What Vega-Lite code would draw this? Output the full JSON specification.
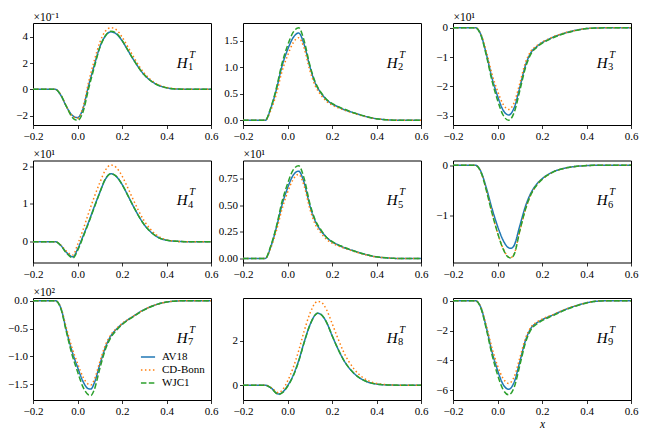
{
  "$schema": "https://vega.github.io/schema/vega-lite/v6.json",
  "padding": {"left": 7, "top": 10, "right": 5, "bottom": 5},
  "background": "white",
  "columns": 3,
  "spacing": {"row": 35.5, "column": 32},
  "bounds": "flush",
  "resolve": {"scale": {"x": "independent", "y": "independent"}, "legend": {"color": "independent", "strokeDash": "independent"}},
  "config": {
    "font": "Liberation Serif",
    "view": {"stroke": "#000", "strokeWidth": 1},
    "range": {"category": ["#1f77b4", "#ff7f0e", "#2ca02c"]},
    "axis": {"domain": false, "grid": false, "tickColor": "#000", "tickSize": 3.5, "tickWidth": 0.8, "labelFont": "Liberation Serif", "labelFontSize": 11, "labelColor": "#000", "labelPadding": 2, "labelFlush": false, "labelOverlap": false, "titleFont": "Liberation Serif", "titleFontWeight": "normal", "titleFontSize": 11.5, "titleColor": "#000"},
    "axisY": {"titleAngle": 0, "titleAlign": "left", "titleBaseline": "alphabetic", "titleX": 0, "titleY": -3},
    "axisX": {"titleFontStyle": "italic", "titlePadding": 2},
    "legend": {"labelFont": "Liberation Serif", "labelFontSize": 11, "labelColor": "#000", "symbolSize": 200, "symbolStrokeWidth": 1.5, "labelOffset": 6, "rowPadding": 0, "padding": 0, "symbolType": "stroke"},
    "style": {
      "hl": {"font": "Liberation Serif", "fontStyle": "italic", "fontSize": 15, "align": "center", "baseline": "middle"},
      "sup": {"font": "Liberation Serif", "fontStyle": "italic", "fontSize": 10.5, "align": "center", "baseline": "middle", "dx": 10, "dy": -8},
      "sub": {"font": "Liberation Serif", "fontSize": 10.5, "align": "center", "baseline": "middle", "dx": 8.5, "dy": 4.5}
    }
  },
  "datasets": {
    "p1": [
      {"s":"AV18","x":-0.2,"y":0},{"s":"AV18","x":-0.1,"y":0},{"s":"AV18","x":-0.075,"y":-0.45},{"s":"AV18","x":-0.05,"y":-1.3},{"s":"AV18","x":-0.025,"y":-1.95},{"s":"AV18","x":0,"y":-2.15},{"s":"AV18","x":0.025,"y":-1.45},{"s":"AV18","x":0.05,"y":0.3},{"s":"AV18","x":0.075,"y":1.8},{"s":"AV18","x":0.1,"y":3.2},{"s":"AV18","x":0.125,"y":4.05},{"s":"AV18","x":0.15,"y":4.37},{"s":"AV18","x":0.175,"y":4.2},{"s":"AV18","x":0.2,"y":3.7},{"s":"AV18","x":0.225,"y":3.0},{"s":"AV18","x":0.25,"y":2.3},{"s":"AV18","x":0.3,"y":1.1},{"s":"AV18","x":0.35,"y":0.42},{"s":"AV18","x":0.4,"y":0.12},{"s":"AV18","x":0.45,"y":0.02},{"s":"AV18","x":0.5,"y":0},{"s":"AV18","x":0.6,"y":0},
      {"s":"CD-Bonn","x":-0.2,"y":0},{"s":"CD-Bonn","x":-0.1,"y":0},{"s":"CD-Bonn","x":-0.075,"y":-0.42},{"s":"CD-Bonn","x":-0.05,"y":-1.28},{"s":"CD-Bonn","x":-0.025,"y":-1.98},{"s":"CD-Bonn","x":0,"y":-2.2},{"s":"CD-Bonn","x":0.025,"y":-1.35},{"s":"CD-Bonn","x":0.05,"y":0.55},{"s":"CD-Bonn","x":0.075,"y":2.15},{"s":"CD-Bonn","x":0.1,"y":3.55},{"s":"CD-Bonn","x":0.125,"y":4.42},{"s":"CD-Bonn","x":0.15,"y":4.68},{"s":"CD-Bonn","x":0.175,"y":4.52},{"s":"CD-Bonn","x":0.2,"y":3.98},{"s":"CD-Bonn","x":0.225,"y":3.27},{"s":"CD-Bonn","x":0.25,"y":2.52},{"s":"CD-Bonn","x":0.3,"y":1.22},{"s":"CD-Bonn","x":0.35,"y":0.48},{"s":"CD-Bonn","x":0.4,"y":0.14},{"s":"CD-Bonn","x":0.45,"y":0.03},{"s":"CD-Bonn","x":0.5,"y":0},{"s":"CD-Bonn","x":0.6,"y":0},
      {"s":"WJC1","x":-0.2,"y":0},{"s":"WJC1","x":-0.1,"y":0},{"s":"WJC1","x":-0.075,"y":-0.42},{"s":"WJC1","x":-0.05,"y":-1.3},{"s":"WJC1","x":-0.025,"y":-2.1},{"s":"WJC1","x":0,"y":-2.36},{"s":"WJC1","x":0.025,"y":-1.7},{"s":"WJC1","x":0.05,"y":0.05},{"s":"WJC1","x":0.075,"y":1.65},{"s":"WJC1","x":0.1,"y":3.15},{"s":"WJC1","x":0.125,"y":4.05},{"s":"WJC1","x":0.15,"y":4.42},{"s":"WJC1","x":0.175,"y":4.26},{"s":"WJC1","x":0.2,"y":3.74},{"s":"WJC1","x":0.225,"y":3.02},{"s":"WJC1","x":0.25,"y":2.3},{"s":"WJC1","x":0.3,"y":1.1},{"s":"WJC1","x":0.35,"y":0.42},{"s":"WJC1","x":0.4,"y":0.12},{"s":"WJC1","x":0.45,"y":0.02},{"s":"WJC1","x":0.5,"y":0},{"s":"WJC1","x":0.6,"y":0}
    ],
    "p2": [
      {"s":"AV18","x":-0.2,"y":0},{"s":"AV18","x":-0.1,"y":0},{"s":"AV18","x":-0.075,"y":0.23},{"s":"AV18","x":-0.05,"y":0.58},{"s":"AV18","x":-0.025,"y":1.02},{"s":"AV18","x":0,"y":1.33},{"s":"AV18","x":0.025,"y":1.56},{"s":"AV18","x":0.05,"y":1.65},{"s":"AV18","x":0.075,"y":1.43},{"s":"AV18","x":0.1,"y":1.02},{"s":"AV18","x":0.125,"y":0.7},{"s":"AV18","x":0.15,"y":0.52},{"s":"AV18","x":0.175,"y":0.39},{"s":"AV18","x":0.2,"y":0.31},{"s":"AV18","x":0.225,"y":0.26},{"s":"AV18","x":0.25,"y":0.21},{"s":"AV18","x":0.3,"y":0.14},{"s":"AV18","x":0.35,"y":0.075},{"s":"AV18","x":0.4,"y":0.03},{"s":"AV18","x":0.45,"y":0.01},{"s":"AV18","x":0.5,"y":0},{"s":"AV18","x":0.6,"y":0},
      {"s":"CD-Bonn","x":-0.2,"y":0},{"s":"CD-Bonn","x":-0.1,"y":0},{"s":"CD-Bonn","x":-0.075,"y":0.19},{"s":"CD-Bonn","x":-0.05,"y":0.5},{"s":"CD-Bonn","x":-0.025,"y":0.92},{"s":"CD-Bonn","x":0,"y":1.22},{"s":"CD-Bonn","x":0.025,"y":1.46},{"s":"CD-Bonn","x":0.05,"y":1.56},{"s":"CD-Bonn","x":0.075,"y":1.36},{"s":"CD-Bonn","x":0.1,"y":0.95},{"s":"CD-Bonn","x":0.125,"y":0.65},{"s":"CD-Bonn","x":0.15,"y":0.48},{"s":"CD-Bonn","x":0.175,"y":0.36},{"s":"CD-Bonn","x":0.2,"y":0.29},{"s":"CD-Bonn","x":0.225,"y":0.24},{"s":"CD-Bonn","x":0.25,"y":0.2},{"s":"CD-Bonn","x":0.3,"y":0.13},{"s":"CD-Bonn","x":0.35,"y":0.07},{"s":"CD-Bonn","x":0.4,"y":0.028},{"s":"CD-Bonn","x":0.45,"y":0.01},{"s":"CD-Bonn","x":0.5,"y":0},{"s":"CD-Bonn","x":0.6,"y":0},
      {"s":"WJC1","x":-0.2,"y":0},{"s":"WJC1","x":-0.1,"y":0},{"s":"WJC1","x":-0.075,"y":0.24},{"s":"WJC1","x":-0.05,"y":0.61},{"s":"WJC1","x":-0.025,"y":1.07},{"s":"WJC1","x":0,"y":1.41},{"s":"WJC1","x":0.025,"y":1.66},{"s":"WJC1","x":0.05,"y":1.75},{"s":"WJC1","x":0.075,"y":1.5},{"s":"WJC1","x":0.1,"y":1.05},{"s":"WJC1","x":0.125,"y":0.72},{"s":"WJC1","x":0.15,"y":0.53},{"s":"WJC1","x":0.175,"y":0.4},{"s":"WJC1","x":0.2,"y":0.32},{"s":"WJC1","x":0.225,"y":0.265},{"s":"WJC1","x":0.25,"y":0.22},{"s":"WJC1","x":0.3,"y":0.14},{"s":"WJC1","x":0.35,"y":0.078},{"s":"WJC1","x":0.4,"y":0.032},{"s":"WJC1","x":0.45,"y":0.01},{"s":"WJC1","x":0.5,"y":0},{"s":"WJC1","x":0.6,"y":0}
    ],
    "p3": [
      {"s":"AV18","x":-0.2,"y":0},{"s":"AV18","x":-0.1,"y":0},{"s":"AV18","x":-0.075,"y":-0.23},{"s":"AV18","x":-0.05,"y":-0.9},{"s":"AV18","x":-0.025,"y":-1.7},{"s":"AV18","x":0,"y":-2.32},{"s":"AV18","x":0.025,"y":-2.8},{"s":"AV18","x":0.05,"y":-2.97},{"s":"AV18","x":0.075,"y":-2.72},{"s":"AV18","x":0.1,"y":-2.04},{"s":"AV18","x":0.125,"y":-1.3},{"s":"AV18","x":0.15,"y":-0.85},{"s":"AV18","x":0.175,"y":-0.65},{"s":"AV18","x":0.2,"y":-0.51},{"s":"AV18","x":0.225,"y":-0.41},{"s":"AV18","x":0.25,"y":-0.32},{"s":"AV18","x":0.3,"y":-0.19},{"s":"AV18","x":0.35,"y":-0.09},{"s":"AV18","x":0.4,"y":-0.03},{"s":"AV18","x":0.45,"y":-0.01},{"s":"AV18","x":0.5,"y":0},{"s":"AV18","x":0.6,"y":0},
      {"s":"CD-Bonn","x":-0.2,"y":0},{"s":"CD-Bonn","x":-0.1,"y":0},{"s":"CD-Bonn","x":-0.075,"y":-0.21},{"s":"CD-Bonn","x":-0.05,"y":-0.82},{"s":"CD-Bonn","x":-0.025,"y":-1.57},{"s":"CD-Bonn","x":0,"y":-2.15},{"s":"CD-Bonn","x":0.025,"y":-2.6},{"s":"CD-Bonn","x":0.05,"y":-2.78},{"s":"CD-Bonn","x":0.075,"y":-2.55},{"s":"CD-Bonn","x":0.1,"y":-1.9},{"s":"CD-Bonn","x":0.125,"y":-1.2},{"s":"CD-Bonn","x":0.15,"y":-0.8},{"s":"CD-Bonn","x":0.175,"y":-0.62},{"s":"CD-Bonn","x":0.2,"y":-0.49},{"s":"CD-Bonn","x":0.225,"y":-0.4},{"s":"CD-Bonn","x":0.25,"y":-0.31},{"s":"CD-Bonn","x":0.3,"y":-0.18},{"s":"CD-Bonn","x":0.35,"y":-0.09},{"s":"CD-Bonn","x":0.4,"y":-0.03},{"s":"CD-Bonn","x":0.45,"y":-0.01},{"s":"CD-Bonn","x":0.5,"y":0},{"s":"CD-Bonn","x":0.6,"y":0},
      {"s":"WJC1","x":-0.2,"y":0},{"s":"WJC1","x":-0.1,"y":0},{"s":"WJC1","x":-0.075,"y":-0.25},{"s":"WJC1","x":-0.05,"y":-0.95},{"s":"WJC1","x":-0.025,"y":-1.8},{"s":"WJC1","x":0,"y":-2.46},{"s":"WJC1","x":0.025,"y":-2.97},{"s":"WJC1","x":0.05,"y":-3.15},{"s":"WJC1","x":0.075,"y":-2.88},{"s":"WJC1","x":0.1,"y":-2.15},{"s":"WJC1","x":0.125,"y":-1.38},{"s":"WJC1","x":0.15,"y":-0.9},{"s":"WJC1","x":0.175,"y":-0.68},{"s":"WJC1","x":0.2,"y":-0.53},{"s":"WJC1","x":0.225,"y":-0.43},{"s":"WJC1","x":0.25,"y":-0.34},{"s":"WJC1","x":0.3,"y":-0.2},{"s":"WJC1","x":0.35,"y":-0.1},{"s":"WJC1","x":0.4,"y":-0.03},{"s":"WJC1","x":0.45,"y":-0.01},{"s":"WJC1","x":0.5,"y":0},{"s":"WJC1","x":0.6,"y":0}
    ],
    "p4": [
      {"s":"AV18","x":-0.2,"y":0},{"s":"AV18","x":-0.1,"y":0},{"s":"AV18","x":-0.075,"y":-0.1},{"s":"AV18","x":-0.05,"y":-0.28},{"s":"AV18","x":-0.02,"y":-0.4},{"s":"AV18","x":0,"y":-0.2},{"s":"AV18","x":0.025,"y":0.15},{"s":"AV18","x":0.05,"y":0.52},{"s":"AV18","x":0.075,"y":0.92},{"s":"AV18","x":0.1,"y":1.3},{"s":"AV18","x":0.125,"y":1.65},{"s":"AV18","x":0.15,"y":1.8},{"s":"AV18","x":0.175,"y":1.72},{"s":"AV18","x":0.2,"y":1.52},{"s":"AV18","x":0.225,"y":1.24},{"s":"AV18","x":0.25,"y":0.95},{"s":"AV18","x":0.3,"y":0.45},{"s":"AV18","x":0.35,"y":0.16},{"s":"AV18","x":0.4,"y":0.04},{"s":"AV18","x":0.45,"y":0.01},{"s":"AV18","x":0.5,"y":0},{"s":"AV18","x":0.6,"y":0},
      {"s":"CD-Bonn","x":-0.2,"y":0},{"s":"CD-Bonn","x":-0.1,"y":0},{"s":"CD-Bonn","x":-0.075,"y":-0.09},{"s":"CD-Bonn","x":-0.05,"y":-0.25},{"s":"CD-Bonn","x":-0.02,"y":-0.35},{"s":"CD-Bonn","x":0,"y":-0.08},{"s":"CD-Bonn","x":0.025,"y":0.32},{"s":"CD-Bonn","x":0.05,"y":0.76},{"s":"CD-Bonn","x":0.075,"y":1.18},{"s":"CD-Bonn","x":0.1,"y":1.56},{"s":"CD-Bonn","x":0.125,"y":1.89},{"s":"CD-Bonn","x":0.15,"y":2.03},{"s":"CD-Bonn","x":0.175,"y":1.96},{"s":"CD-Bonn","x":0.2,"y":1.74},{"s":"CD-Bonn","x":0.225,"y":1.44},{"s":"CD-Bonn","x":0.25,"y":1.12},{"s":"CD-Bonn","x":0.3,"y":0.55},{"s":"CD-Bonn","x":0.35,"y":0.2},{"s":"CD-Bonn","x":0.4,"y":0.05},{"s":"CD-Bonn","x":0.45,"y":0.01},{"s":"CD-Bonn","x":0.5,"y":0},{"s":"CD-Bonn","x":0.6,"y":0},
      {"s":"WJC1","x":-0.2,"y":0},{"s":"WJC1","x":-0.1,"y":0},{"s":"WJC1","x":-0.075,"y":-0.1},{"s":"WJC1","x":-0.05,"y":-0.3},{"s":"WJC1","x":-0.02,"y":-0.43},{"s":"WJC1","x":0,"y":-0.24},{"s":"WJC1","x":0.025,"y":0.12},{"s":"WJC1","x":0.05,"y":0.5},{"s":"WJC1","x":0.075,"y":0.9},{"s":"WJC1","x":0.1,"y":1.3},{"s":"WJC1","x":0.125,"y":1.66},{"s":"WJC1","x":0.15,"y":1.8},{"s":"WJC1","x":0.175,"y":1.73},{"s":"WJC1","x":0.2,"y":1.52},{"s":"WJC1","x":0.225,"y":1.24},{"s":"WJC1","x":0.25,"y":0.95},{"s":"WJC1","x":0.3,"y":0.45},{"s":"WJC1","x":0.35,"y":0.16},{"s":"WJC1","x":0.4,"y":0.04},{"s":"WJC1","x":0.45,"y":0.01},{"s":"WJC1","x":0.5,"y":0},{"s":"WJC1","x":0.6,"y":0}
    ],
    "p5": [
      {"s":"AV18","x":-0.2,"y":0},{"s":"AV18","x":-0.1,"y":0},{"s":"AV18","x":-0.075,"y":0.11},{"s":"AV18","x":-0.05,"y":0.29},{"s":"AV18","x":-0.025,"y":0.5},{"s":"AV18","x":0,"y":0.66},{"s":"AV18","x":0.025,"y":0.78},{"s":"AV18","x":0.05,"y":0.82},{"s":"AV18","x":0.075,"y":0.71},{"s":"AV18","x":0.1,"y":0.5},{"s":"AV18","x":0.125,"y":0.35},{"s":"AV18","x":0.15,"y":0.26},{"s":"AV18","x":0.175,"y":0.2},{"s":"AV18","x":0.2,"y":0.155},{"s":"AV18","x":0.225,"y":0.13},{"s":"AV18","x":0.25,"y":0.105},{"s":"AV18","x":0.3,"y":0.07},{"s":"AV18","x":0.35,"y":0.038},{"s":"AV18","x":0.4,"y":0.015},{"s":"AV18","x":0.45,"y":0.005},{"s":"AV18","x":0.5,"y":0},{"s":"AV18","x":0.6,"y":0},
      {"s":"CD-Bonn","x":-0.2,"y":0},{"s":"CD-Bonn","x":-0.1,"y":0},{"s":"CD-Bonn","x":-0.075,"y":0.1},{"s":"CD-Bonn","x":-0.05,"y":0.26},{"s":"CD-Bonn","x":-0.025,"y":0.46},{"s":"CD-Bonn","x":0,"y":0.62},{"s":"CD-Bonn","x":0.025,"y":0.74},{"s":"CD-Bonn","x":0.05,"y":0.79},{"s":"CD-Bonn","x":0.075,"y":0.68},{"s":"CD-Bonn","x":0.1,"y":0.47},{"s":"CD-Bonn","x":0.125,"y":0.32},{"s":"CD-Bonn","x":0.15,"y":0.24},{"s":"CD-Bonn","x":0.175,"y":0.18},{"s":"CD-Bonn","x":0.2,"y":0.145},{"s":"CD-Bonn","x":0.225,"y":0.12},{"s":"CD-Bonn","x":0.25,"y":0.1},{"s":"CD-Bonn","x":0.3,"y":0.065},{"s":"CD-Bonn","x":0.35,"y":0.035},{"s":"CD-Bonn","x":0.4,"y":0.014},{"s":"CD-Bonn","x":0.45,"y":0.005},{"s":"CD-Bonn","x":0.5,"y":0},{"s":"CD-Bonn","x":0.6,"y":0},
      {"s":"WJC1","x":-0.2,"y":0},{"s":"WJC1","x":-0.1,"y":0},{"s":"WJC1","x":-0.075,"y":0.12},{"s":"WJC1","x":-0.05,"y":0.3},{"s":"WJC1","x":-0.025,"y":0.53},{"s":"WJC1","x":0,"y":0.7},{"s":"WJC1","x":0.025,"y":0.83},{"s":"WJC1","x":0.05,"y":0.87},{"s":"WJC1","x":0.075,"y":0.75},{"s":"WJC1","x":0.1,"y":0.52},{"s":"WJC1","x":0.125,"y":0.36},{"s":"WJC1","x":0.15,"y":0.27},{"s":"WJC1","x":0.175,"y":0.2},{"s":"WJC1","x":0.2,"y":0.16},{"s":"WJC1","x":0.225,"y":0.13},{"s":"WJC1","x":0.25,"y":0.11},{"s":"WJC1","x":0.3,"y":0.07},{"s":"WJC1","x":0.35,"y":0.039},{"s":"WJC1","x":0.4,"y":0.015},{"s":"WJC1","x":0.45,"y":0.005},{"s":"WJC1","x":0.5,"y":0},{"s":"WJC1","x":0.6,"y":0}
    ],
    "p6": [
      {"s":"AV18","x":-0.2,"y":0},{"s":"AV18","x":-0.1,"y":0},{"s":"AV18","x":-0.075,"y":-0.12},{"s":"AV18","x":-0.05,"y":-0.45},{"s":"AV18","x":-0.025,"y":-0.85},{"s":"AV18","x":0,"y":-1.2},{"s":"AV18","x":0.025,"y":-1.48},{"s":"AV18","x":0.05,"y":-1.63},{"s":"AV18","x":0.06,"y":-1.64},{"s":"AV18","x":0.075,"y":-1.58},{"s":"AV18","x":0.1,"y":-1.2},{"s":"AV18","x":0.125,"y":-0.82},{"s":"AV18","x":0.15,"y":-0.55},{"s":"AV18","x":0.175,"y":-0.38},{"s":"AV18","x":0.2,"y":-0.27},{"s":"AV18","x":0.25,"y":-0.13},{"s":"AV18","x":0.3,"y":-0.06},{"s":"AV18","x":0.35,"y":-0.025},{"s":"AV18","x":0.4,"y":-0.008},{"s":"AV18","x":0.45,"y":0},{"s":"AV18","x":0.6,"y":0},
      {"s":"CD-Bonn","x":-0.2,"y":0},{"s":"CD-Bonn","x":-0.1,"y":0},{"s":"CD-Bonn","x":-0.075,"y":-0.13},{"s":"CD-Bonn","x":-0.05,"y":-0.5},{"s":"CD-Bonn","x":-0.025,"y":-0.94},{"s":"CD-Bonn","x":0,"y":-1.33},{"s":"CD-Bonn","x":0.025,"y":-1.64},{"s":"CD-Bonn","x":0.05,"y":-1.81},{"s":"CD-Bonn","x":0.06,"y":-1.82},{"s":"CD-Bonn","x":0.075,"y":-1.75},{"s":"CD-Bonn","x":0.1,"y":-1.3},{"s":"CD-Bonn","x":0.125,"y":-0.88},{"s":"CD-Bonn","x":0.15,"y":-0.58},{"s":"CD-Bonn","x":0.175,"y":-0.4},{"s":"CD-Bonn","x":0.2,"y":-0.28},{"s":"CD-Bonn","x":0.25,"y":-0.135},{"s":"CD-Bonn","x":0.3,"y":-0.06},{"s":"CD-Bonn","x":0.35,"y":-0.025},{"s":"CD-Bonn","x":0.4,"y":-0.008},{"s":"CD-Bonn","x":0.45,"y":0},{"s":"CD-Bonn","x":0.6,"y":0},
      {"s":"WJC1","x":-0.2,"y":0},{"s":"WJC1","x":-0.1,"y":0},{"s":"WJC1","x":-0.075,"y":-0.13},{"s":"WJC1","x":-0.05,"y":-0.5},{"s":"WJC1","x":-0.025,"y":-0.94},{"s":"WJC1","x":0,"y":-1.33},{"s":"WJC1","x":0.025,"y":-1.65},{"s":"WJC1","x":0.05,"y":-1.82},{"s":"WJC1","x":0.06,"y":-1.83},{"s":"WJC1","x":0.075,"y":-1.76},{"s":"WJC1","x":0.1,"y":-1.3},{"s":"WJC1","x":0.125,"y":-0.88},{"s":"WJC1","x":0.15,"y":-0.58},{"s":"WJC1","x":0.175,"y":-0.4},{"s":"WJC1","x":0.2,"y":-0.28},{"s":"WJC1","x":0.25,"y":-0.135},{"s":"WJC1","x":0.3,"y":-0.06},{"s":"WJC1","x":0.35,"y":-0.025},{"s":"WJC1","x":0.4,"y":-0.008},{"s":"WJC1","x":0.45,"y":0},{"s":"WJC1","x":0.6,"y":0}
    ],
    "p7": [
      {"s":"AV18","x":-0.2,"y":0},{"s":"AV18","x":-0.1,"y":0},{"s":"AV18","x":-0.075,"y":-0.13},{"s":"AV18","x":-0.05,"y":-0.53},{"s":"AV18","x":-0.025,"y":-0.9},{"s":"AV18","x":0,"y":-1.19},{"s":"AV18","x":0.025,"y":-1.45},{"s":"AV18","x":0.05,"y":-1.58},{"s":"AV18","x":0.06,"y":-1.585},{"s":"AV18","x":0.075,"y":-1.48},{"s":"AV18","x":0.1,"y":-1.15},{"s":"AV18","x":0.125,"y":-0.84},{"s":"AV18","x":0.15,"y":-0.63},{"s":"AV18","x":0.175,"y":-0.51},{"s":"AV18","x":0.2,"y":-0.42},{"s":"AV18","x":0.25,"y":-0.28},{"s":"AV18","x":0.3,"y":-0.16},{"s":"AV18","x":0.35,"y":-0.075},{"s":"AV18","x":0.4,"y":-0.025},{"s":"AV18","x":0.45,"y":-0.005},{"s":"AV18","x":0.5,"y":0},{"s":"AV18","x":0.6,"y":0},
      {"s":"CD-Bonn","x":-0.2,"y":0},{"s":"CD-Bonn","x":-0.1,"y":0},{"s":"CD-Bonn","x":-0.075,"y":-0.12},{"s":"CD-Bonn","x":-0.05,"y":-0.49},{"s":"CD-Bonn","x":-0.025,"y":-0.84},{"s":"CD-Bonn","x":0,"y":-1.12},{"s":"CD-Bonn","x":0.025,"y":-1.37},{"s":"CD-Bonn","x":0.05,"y":-1.5},{"s":"CD-Bonn","x":0.06,"y":-1.51},{"s":"CD-Bonn","x":0.075,"y":-1.42},{"s":"CD-Bonn","x":0.1,"y":-1.1},{"s":"CD-Bonn","x":0.125,"y":-0.8},{"s":"CD-Bonn","x":0.15,"y":-0.61},{"s":"CD-Bonn","x":0.175,"y":-0.5},{"s":"CD-Bonn","x":0.2,"y":-0.41},{"s":"CD-Bonn","x":0.25,"y":-0.28},{"s":"CD-Bonn","x":0.3,"y":-0.16},{"s":"CD-Bonn","x":0.35,"y":-0.075},{"s":"CD-Bonn","x":0.4,"y":-0.025},{"s":"CD-Bonn","x":0.45,"y":-0.005},{"s":"CD-Bonn","x":0.5,"y":0},{"s":"CD-Bonn","x":0.6,"y":0},
      {"s":"WJC1","x":-0.2,"y":0},{"s":"WJC1","x":-0.1,"y":0},{"s":"WJC1","x":-0.075,"y":-0.14},{"s":"WJC1","x":-0.05,"y":-0.56},{"s":"WJC1","x":-0.025,"y":-0.96},{"s":"WJC1","x":0,"y":-1.27},{"s":"WJC1","x":0.025,"y":-1.55},{"s":"WJC1","x":0.05,"y":-1.69},{"s":"WJC1","x":0.06,"y":-1.7},{"s":"WJC1","x":0.075,"y":-1.6},{"s":"WJC1","x":0.1,"y":-1.22},{"s":"WJC1","x":0.125,"y":-0.88},{"s":"WJC1","x":0.15,"y":-0.66},{"s":"WJC1","x":0.175,"y":-0.53},{"s":"WJC1","x":0.2,"y":-0.43},{"s":"WJC1","x":0.25,"y":-0.29},{"s":"WJC1","x":0.3,"y":-0.165},{"s":"WJC1","x":0.35,"y":-0.077},{"s":"WJC1","x":0.4,"y":-0.025},{"s":"WJC1","x":0.45,"y":-0.005},{"s":"WJC1","x":0.5,"y":0},{"s":"WJC1","x":0.6,"y":0}
    ],
    "p8": [
      {"s":"AV18","x":-0.2,"y":0},{"s":"AV18","x":-0.1,"y":0},{"s":"AV18","x":-0.075,"y":-0.12},{"s":"AV18","x":-0.04,"y":-0.4},{"s":"AV18","x":-0.02,"y":-0.3},{"s":"AV18","x":0,"y":-0.03},{"s":"AV18","x":0.025,"y":0.43},{"s":"AV18","x":0.05,"y":1.1},{"s":"AV18","x":0.075,"y":1.95},{"s":"AV18","x":0.1,"y":2.7},{"s":"AV18","x":0.125,"y":3.18},{"s":"AV18","x":0.135,"y":3.25},{"s":"AV18","x":0.15,"y":3.2},{"s":"AV18","x":0.175,"y":2.85},{"s":"AV18","x":0.2,"y":2.25},{"s":"AV18","x":0.225,"y":1.68},{"s":"AV18","x":0.25,"y":1.18},{"s":"AV18","x":0.3,"y":0.52},{"s":"AV18","x":0.35,"y":0.19},{"s":"AV18","x":0.4,"y":0.05},{"s":"AV18","x":0.45,"y":0.01},{"s":"AV18","x":0.5,"y":0},{"s":"AV18","x":0.6,"y":0},
      {"s":"CD-Bonn","x":-0.2,"y":0},{"s":"CD-Bonn","x":-0.1,"y":0},{"s":"CD-Bonn","x":-0.075,"y":-0.1},{"s":"CD-Bonn","x":-0.04,"y":-0.34},{"s":"CD-Bonn","x":-0.02,"y":-0.18},{"s":"CD-Bonn","x":0,"y":0.18},{"s":"CD-Bonn","x":0.025,"y":0.78},{"s":"CD-Bonn","x":0.05,"y":1.55},{"s":"CD-Bonn","x":0.075,"y":2.45},{"s":"CD-Bonn","x":0.1,"y":3.22},{"s":"CD-Bonn","x":0.125,"y":3.72},{"s":"CD-Bonn","x":0.135,"y":3.79},{"s":"CD-Bonn","x":0.15,"y":3.76},{"s":"CD-Bonn","x":0.175,"y":3.42},{"s":"CD-Bonn","x":0.2,"y":2.8},{"s":"CD-Bonn","x":0.225,"y":2.15},{"s":"CD-Bonn","x":0.25,"y":1.55},{"s":"CD-Bonn","x":0.3,"y":0.72},{"s":"CD-Bonn","x":0.35,"y":0.27},{"s":"CD-Bonn","x":0.4,"y":0.08},{"s":"CD-Bonn","x":0.45,"y":0.02},{"s":"CD-Bonn","x":0.5,"y":0},{"s":"CD-Bonn","x":0.6,"y":0},
      {"s":"WJC1","x":-0.2,"y":0},{"s":"WJC1","x":-0.1,"y":0},{"s":"WJC1","x":-0.075,"y":-0.12},{"s":"WJC1","x":-0.04,"y":-0.42},{"s":"WJC1","x":-0.02,"y":-0.32},{"s":"WJC1","x":0,"y":-0.06},{"s":"WJC1","x":0.025,"y":0.4},{"s":"WJC1","x":0.05,"y":1.07},{"s":"WJC1","x":0.075,"y":1.93},{"s":"WJC1","x":0.1,"y":2.7},{"s":"WJC1","x":0.125,"y":3.18},{"s":"WJC1","x":0.135,"y":3.25},{"s":"WJC1","x":0.15,"y":3.2},{"s":"WJC1","x":0.175,"y":2.85},{"s":"WJC1","x":0.2,"y":2.25},{"s":"WJC1","x":0.225,"y":1.68},{"s":"WJC1","x":0.25,"y":1.18},{"s":"WJC1","x":0.3,"y":0.52},{"s":"WJC1","x":0.35,"y":0.19},{"s":"WJC1","x":0.4,"y":0.05},{"s":"WJC1","x":0.45,"y":0.01},{"s":"WJC1","x":0.5,"y":0},{"s":"WJC1","x":0.6,"y":0}
    ],
    "p9": [
      {"s":"AV18","x":-0.2,"y":0},{"s":"AV18","x":-0.1,"y":0},{"s":"AV18","x":-0.075,"y":-0.45},{"s":"AV18","x":-0.05,"y":-1.8},{"s":"AV18","x":-0.025,"y":-3.4},{"s":"AV18","x":0,"y":-4.65},{"s":"AV18","x":0.025,"y":-5.6},{"s":"AV18","x":0.05,"y":-5.93},{"s":"AV18","x":0.075,"y":-5.45},{"s":"AV18","x":0.1,"y":-4.1},{"s":"AV18","x":0.125,"y":-2.7},{"s":"AV18","x":0.15,"y":-1.85},{"s":"AV18","x":0.175,"y":-1.5},{"s":"AV18","x":0.2,"y":-1.28},{"s":"AV18","x":0.25,"y":-0.95},{"s":"AV18","x":0.3,"y":-0.62},{"s":"AV18","x":0.35,"y":-0.35},{"s":"AV18","x":0.4,"y":-0.14},{"s":"AV18","x":0.45,"y":-0.03},{"s":"AV18","x":0.5,"y":0},{"s":"AV18","x":0.6,"y":0},
      {"s":"CD-Bonn","x":-0.2,"y":0},{"s":"CD-Bonn","x":-0.1,"y":0},{"s":"CD-Bonn","x":-0.075,"y":-0.42},{"s":"CD-Bonn","x":-0.05,"y":-1.68},{"s":"CD-Bonn","x":-0.025,"y":-3.15},{"s":"CD-Bonn","x":0,"y":-4.35},{"s":"CD-Bonn","x":0.025,"y":-5.2},{"s":"CD-Bonn","x":0.05,"y":-5.54},{"s":"CD-Bonn","x":0.075,"y":-5.1},{"s":"CD-Bonn","x":0.1,"y":-3.85},{"s":"CD-Bonn","x":0.125,"y":-2.55},{"s":"CD-Bonn","x":0.15,"y":-1.78},{"s":"CD-Bonn","x":0.175,"y":-1.45},{"s":"CD-Bonn","x":0.2,"y":-1.24},{"s":"CD-Bonn","x":0.25,"y":-0.93},{"s":"CD-Bonn","x":0.3,"y":-0.6},{"s":"CD-Bonn","x":0.35,"y":-0.34},{"s":"CD-Bonn","x":0.4,"y":-0.14},{"s":"CD-Bonn","x":0.45,"y":-0.03},{"s":"CD-Bonn","x":0.5,"y":0},{"s":"CD-Bonn","x":0.6,"y":0},
      {"s":"WJC1","x":-0.2,"y":0},{"s":"WJC1","x":-0.1,"y":0},{"s":"WJC1","x":-0.075,"y":-0.48},{"s":"WJC1","x":-0.05,"y":-1.92},{"s":"WJC1","x":-0.025,"y":-3.6},{"s":"WJC1","x":0,"y":-4.95},{"s":"WJC1","x":0.025,"y":-5.95},{"s":"WJC1","x":0.05,"y":-6.3},{"s":"WJC1","x":0.075,"y":-5.8},{"s":"WJC1","x":0.1,"y":-4.35},{"s":"WJC1","x":0.125,"y":-2.85},{"s":"WJC1","x":0.15,"y":-1.95},{"s":"WJC1","x":0.175,"y":-1.58},{"s":"WJC1","x":0.2,"y":-1.34},{"s":"WJC1","x":0.25,"y":-1.0},{"s":"WJC1","x":0.3,"y":-0.65},{"s":"WJC1","x":0.35,"y":-0.37},{"s":"WJC1","x":0.4,"y":-0.15},{"s":"WJC1","x":0.45,"y":-0.03},{"s":"WJC1","x":0.5,"y":0},{"s":"WJC1","x":0.6,"y":0}
    ]
  },
  "concat": [
    {"width": 178, "height": 102, "data": {"name": "p1"}, "layer": [
      {"mark": {"type": "line", "interpolate": "monotone", "strokeWidth": 1.5}, "encoding": {
        "x": {"field": "x", "type": "quantitative", "scale": {"domain": [-0.2, 0.6], "nice": false, "zero": false}, "axis": {"values": [-0.2, 0, 0.2, 0.4, 0.6], "tickCount": 10, "format": ".1f", "title": null}},
        "y": {"field": "y", "type": "quantitative", "scale": {"domain": [-2.71, 5.04], "nice": false, "zero": false}, "axis": {"values": [-2, 0, 2, 4], "tickCount": 10, "format": "d", "title": "×10⁻¹"}},
        "color": {"field": "s", "type": "nominal", "legend": null},
        "strokeDash": {"field": "s", "type": "nominal", "scale": {"range": [[1, 0], [1.5, 2.5], [5.5, 2.4]]}, "legend": null}}},
      {"data": {"values": [{}]}, "mark": {"type": "text", "style": "hl", "text": "H"}, "encoding": {"x": {"datum": 0.47}, "y": {"datum": 2.02}}},
      {"data": {"values": [{}]}, "mark": {"type": "text", "style": "sup", "text": "T"}, "encoding": {"x": {"datum": 0.47}, "y": {"datum": 2.02}}},
      {"data": {"values": [{}]}, "mark": {"type": "text", "style": "sub", "text": "1"}, "encoding": {"x": {"datum": 0.47}, "y": {"datum": 2.02}}}
    ]},
    {"width": 178, "height": 102, "data": {"name": "p2"}, "layer": [
      {"mark": {"type": "line", "interpolate": "monotone", "strokeWidth": 1.5}, "encoding": {
        "x": {"field": "x", "type": "quantitative", "scale": {"domain": [-0.2, 0.6], "nice": false, "zero": false}, "axis": {"values": [-0.2, 0, 0.2, 0.4, 0.6], "tickCount": 10, "format": ".1f", "title": null}},
        "y": {"field": "y", "type": "quantitative", "scale": {"domain": [-0.088, 1.838], "nice": false, "zero": false}, "axis": {"values": [0, 0.5, 1, 1.5], "tickCount": 10, "format": ".1f", "title": null}},
        "color": {"field": "s", "type": "nominal", "legend": null},
        "strokeDash": {"field": "s", "type": "nominal", "scale": {"range": [[1, 0], [1.5, 2.5], [5.5, 2.4]]}, "legend": null}}},
      {"data": {"values": [{}]}, "mark": {"type": "text", "style": "hl", "text": "H"}, "encoding": {"x": {"datum": 0.47}, "y": {"datum": 1.087}}},
      {"data": {"values": [{}]}, "mark": {"type": "text", "style": "sup", "text": "T"}, "encoding": {"x": {"datum": 0.47}, "y": {"datum": 1.087}}},
      {"data": {"values": [{}]}, "mark": {"type": "text", "style": "sub", "text": "2"}, "encoding": {"x": {"datum": 0.47}, "y": {"datum": 1.087}}}
    ]},
    {"width": 178, "height": 102, "data": {"name": "p3"}, "layer": [
      {"mark": {"type": "line", "interpolate": "monotone", "strokeWidth": 1.5}, "encoding": {
        "x": {"field": "x", "type": "quantitative", "scale": {"domain": [-0.2, 0.6], "nice": false, "zero": false}, "axis": {"values": [-0.2, 0, 0.2, 0.4, 0.6], "tickCount": 10, "format": ".1f", "title": null}},
        "y": {"field": "y", "type": "quantitative", "scale": {"domain": [-3.31, 0.16], "nice": false, "zero": false}, "axis": {"values": [-3, -2, -1, 0], "tickCount": 10, "format": "d", "title": "×10¹"}},
        "color": {"field": "s", "type": "nominal", "legend": null},
        "strokeDash": {"field": "s", "type": "nominal", "scale": {"range": [[1, 0], [1.5, 2.5], [5.5, 2.4]]}, "legend": null}}},
      {"data": {"values": [{}]}, "mark": {"type": "text", "style": "hl", "text": "H"}, "encoding": {"x": {"datum": 0.47}, "y": {"datum": -1.19}}},
      {"data": {"values": [{}]}, "mark": {"type": "text", "style": "sup", "text": "T"}, "encoding": {"x": {"datum": 0.47}, "y": {"datum": -1.19}}},
      {"data": {"values": [{}]}, "mark": {"type": "text", "style": "sub", "text": "3"}, "encoding": {"x": {"datum": 0.47}, "y": {"datum": -1.19}}}
    ]},
    {"width": 178, "height": 102, "data": {"name": "p4"}, "layer": [
      {"mark": {"type": "line", "interpolate": "monotone", "strokeWidth": 1.5}, "encoding": {
        "x": {"field": "x", "type": "quantitative", "scale": {"domain": [-0.2, 0.6], "nice": false, "zero": false}, "axis": {"values": [-0.2, 0, 0.2, 0.4, 0.6], "tickCount": 10, "format": ".1f", "title": null}},
        "y": {"field": "y", "type": "quantitative", "scale": {"domain": [-0.55, 2.15], "nice": false, "zero": false}, "axis": {"values": [0, 1, 2], "tickCount": 10, "format": "d", "title": "×10¹"}},
        "color": {"field": "s", "type": "nominal", "legend": null},
        "strokeDash": {"field": "s", "type": "nominal", "scale": {"range": [[1, 0], [1.5, 2.5], [5.5, 2.4]]}, "legend": null}}},
      {"data": {"values": [{}]}, "mark": {"type": "text", "style": "hl", "text": "H"}, "encoding": {"x": {"datum": 0.47}, "y": {"datum": 1.1}}},
      {"data": {"values": [{}]}, "mark": {"type": "text", "style": "sup", "text": "T"}, "encoding": {"x": {"datum": 0.47}, "y": {"datum": 1.1}}},
      {"data": {"values": [{}]}, "mark": {"type": "text", "style": "sub", "text": "4"}, "encoding": {"x": {"datum": 0.47}, "y": {"datum": 1.1}}}
    ]},
    {"width": 178, "height": 102, "data": {"name": "p5"}, "layer": [
      {"mark": {"type": "line", "interpolate": "monotone", "strokeWidth": 1.5}, "encoding": {
        "x": {"field": "x", "type": "quantitative", "scale": {"domain": [-0.2, 0.6], "nice": false, "zero": false}, "axis": {"values": [-0.2, 0, 0.2, 0.4, 0.6], "tickCount": 10, "format": ".1f", "title": null}},
        "y": {"field": "y", "type": "quantitative", "scale": {"domain": [-0.038, 0.92], "nice": false, "zero": false}, "axis": {"values": [0, 0.25, 0.5, 0.75], "tickCount": 10, "format": ".2f", "title": "×10¹"}},
        "color": {"field": "s", "type": "nominal", "legend": null},
        "strokeDash": {"field": "s", "type": "nominal", "scale": {"range": [[1, 0], [1.5, 2.5], [5.5, 2.4]]}, "legend": null}}},
      {"data": {"values": [{}]}, "mark": {"type": "text", "style": "hl", "text": "H"}, "encoding": {"x": {"datum": 0.47}, "y": {"datum": 0.546}}},
      {"data": {"values": [{}]}, "mark": {"type": "text", "style": "sup", "text": "T"}, "encoding": {"x": {"datum": 0.47}, "y": {"datum": 0.546}}},
      {"data": {"values": [{}]}, "mark": {"type": "text", "style": "sub", "text": "5"}, "encoding": {"x": {"datum": 0.47}, "y": {"datum": 0.546}}}
    ]},
    {"width": 178, "height": 102, "data": {"name": "p6"}, "layer": [
      {"mark": {"type": "line", "interpolate": "monotone", "strokeWidth": 1.5}, "encoding": {
        "x": {"field": "x", "type": "quantitative", "scale": {"domain": [-0.2, 0.6], "nice": false, "zero": false}, "axis": {"values": [-0.2, 0, 0.2, 0.4, 0.6], "tickCount": 10, "format": ".1f", "title": null}},
        "y": {"field": "y", "type": "quantitative", "scale": {"domain": [-1.92, 0.093], "nice": false, "zero": false}, "axis": {"values": [-1, 0], "tickCount": 10, "format": "d", "title": null}},
        "color": {"field": "s", "type": "nominal", "legend": null},
        "strokeDash": {"field": "s", "type": "nominal", "scale": {"range": [[1, 0], [1.5, 2.5], [5.5, 2.4]]}, "legend": null}}},
      {"data": {"values": [{}]}, "mark": {"type": "text", "style": "hl", "text": "H"}, "encoding": {"x": {"datum": 0.47}, "y": {"datum": -0.69}}},
      {"data": {"values": [{}]}, "mark": {"type": "text", "style": "sup", "text": "T"}, "encoding": {"x": {"datum": 0.47}, "y": {"datum": -0.69}}},
      {"data": {"values": [{}]}, "mark": {"type": "text", "style": "sub", "text": "6"}, "encoding": {"x": {"datum": 0.47}, "y": {"datum": -0.69}}}
    ]},
    {"width": 178, "height": 102, "data": {"name": "p7"}, "layer": [
      {"mark": {"type": "line", "interpolate": "monotone", "strokeWidth": 1.5}, "encoding": {
        "x": {"field": "x", "type": "quantitative", "scale": {"domain": [-0.2, 0.6], "nice": false, "zero": false}, "axis": {"values": [-0.2, 0, 0.2, 0.4, 0.6], "tickCount": 10, "format": ".1f", "title": null}},
        "y": {"field": "y", "type": "quantitative", "scale": {"domain": [-1.78, 0.048], "nice": false, "zero": false}, "axis": {"values": [-1.5, -1, -0.5, 0], "tickCount": 10, "format": ".1f", "title": "×10²"}},
        "color": {"field": "s", "type": "nominal", "legend": {"title": null, "orient": "none", "legendX": 107, "legendY": 51}},
        "strokeDash": {"field": "s", "type": "nominal", "scale": {"range": [[1, 0], [1.5, 2.5], [5.5, 2.4]]}, "legend": {"title": null, "orient": "none", "legendX": 107, "legendY": 51}}}},
      {"data": {"values": [{}]}, "mark": {"type": "text", "style": "hl", "text": "H"}, "encoding": {"x": {"datum": 0.47}, "y": {"datum": -0.665}}},
      {"data": {"values": [{}]}, "mark": {"type": "text", "style": "sup", "text": "T"}, "encoding": {"x": {"datum": 0.47}, "y": {"datum": -0.665}}},
      {"data": {"values": [{}]}, "mark": {"type": "text", "style": "sub", "text": "7"}, "encoding": {"x": {"datum": 0.47}, "y": {"datum": -0.665}}}
    ]},
    {"width": 178, "height": 102, "data": {"name": "p8"}, "layer": [
      {"mark": {"type": "line", "interpolate": "monotone", "strokeWidth": 1.5}, "encoding": {
        "x": {"field": "x", "type": "quantitative", "scale": {"domain": [-0.2, 0.6], "nice": false, "zero": false}, "axis": {"values": [-0.2, 0, 0.2, 0.4, 0.6], "tickCount": 10, "format": ".1f", "title": null}},
        "y": {"field": "y", "type": "quantitative", "scale": {"domain": [-0.67, 3.94], "nice": false, "zero": false}, "axis": {"values": [0, 2], "tickCount": 10, "format": "d", "title": null}},
        "color": {"field": "s", "type": "nominal", "legend": null},
        "strokeDash": {"field": "s", "type": "nominal", "scale": {"range": [[1, 0], [1.5, 2.5], [5.5, 2.4]]}, "legend": null}}},
      {"data": {"values": [{}]}, "mark": {"type": "text", "style": "hl", "text": "H"}, "encoding": {"x": {"datum": 0.47}, "y": {"datum": 2.14}}},
      {"data": {"values": [{}]}, "mark": {"type": "text", "style": "sup", "text": "T"}, "encoding": {"x": {"datum": 0.47}, "y": {"datum": 2.14}}},
      {"data": {"values": [{}]}, "mark": {"type": "text", "style": "sub", "text": "8"}, "encoding": {"x": {"datum": 0.47}, "y": {"datum": 2.14}}}
    ]},
    {"width": 178, "height": 102, "data": {"name": "p9"}, "layer": [
      {"mark": {"type": "line", "interpolate": "monotone", "strokeWidth": 1.5}, "encoding": {
        "x": {"field": "x", "type": "quantitative", "scale": {"domain": [-0.2, 0.6], "nice": false, "zero": false}, "axis": {"values": [-0.2, 0, 0.2, 0.4, 0.6], "tickCount": 10, "format": ".1f", "title": "x"}},
        "y": {"field": "y", "type": "quantitative", "scale": {"domain": [-6.65, 0.18], "nice": false, "zero": false}, "axis": {"values": [-6, -4, -2, 0], "tickCount": 10, "format": "d", "title": null}},
        "color": {"field": "s", "type": "nominal", "legend": null},
        "strokeDash": {"field": "s", "type": "nominal", "scale": {"range": [[1, 0], [1.5, 2.5], [5.5, 2.4]]}, "legend": null}}},
      {"data": {"values": [{}]}, "mark": {"type": "text", "style": "hl", "text": "H"}, "encoding": {"x": {"datum": 0.47}, "y": {"datum": -2.48}}},
      {"data": {"values": [{}]}, "mark": {"type": "text", "style": "sup", "text": "T"}, "encoding": {"x": {"datum": 0.47}, "y": {"datum": -2.48}}},
      {"data": {"values": [{}]}, "mark": {"type": "text", "style": "sub", "text": "9"}, "encoding": {"x": {"datum": 0.47}, "y": {"datum": -2.48}}}
    ]}
  ]
}
